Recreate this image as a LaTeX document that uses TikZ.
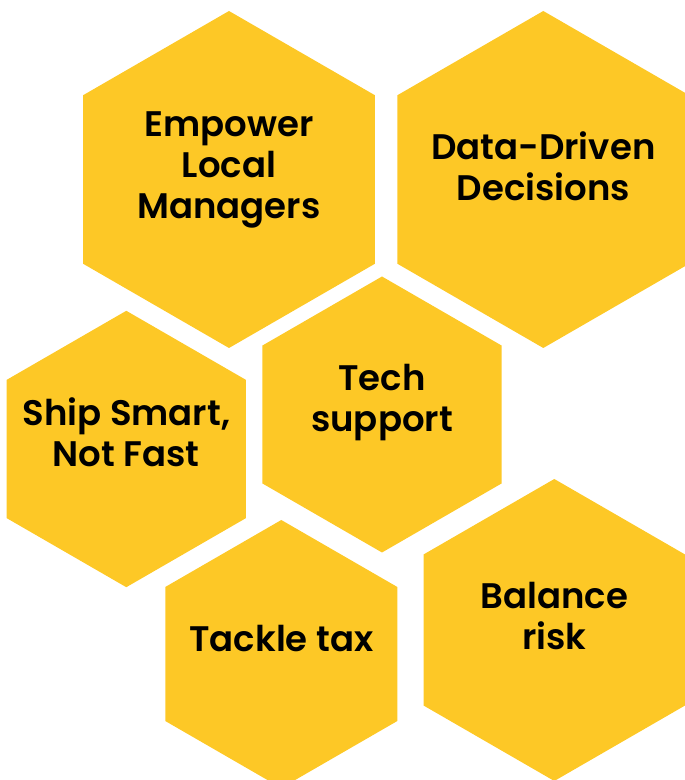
\documentclass[tikz,border=0pt]{standalone}
\usepackage{fontspec}
\setmainfont{Poppins}[UprightFont=* SemiBold]
\usepackage{tikz}
\usetikzlibrary{shapes.geometric,positioning}

\definecolor{hexyellow}{RGB}{253,200,38}

\tikzset{
    hexcell/.style={regular polygon, regular polygon sides=6, shape border rotate=30,
        fill=hexyellow, draw=none, inner sep=0pt, outer sep=0pt},
    hextext/.style={align=center, text=black, inner sep=0pt,
        font=\fontsize{35.5}{41}\selectfont}
}

\begin{document}
\begin{tikzpicture}[x=1pt, y=1pt]
    \useasboundingbox (0,0) rectangle (685,780);
    \clip (0,0) rectangle (685,780);

    % Hexagons
    \node[hexcell, minimum size=337pt] (empower) at (229,600.5) {};
    \node[hexcell, minimum size=337pt] (data) at (543.3,600.5) {};
    \node[hexcell, minimum size=276.4pt] (ship) at (126.3,331) {};
    \node[hexcell, minimum size=276pt] (tech) at (382,365.5) {};
    \node[hexcell, minimum size=268pt] (tackle) at (281.3,126) {};
    \node[hexcell, minimum size=302pt] (balance) at (554.3,150) {};

    % Labels
    \node[hextext] (empowerlbl) at ([yshift=10]empower.center) {Empower\\Local\\Managers};
    \node[hextext] (datalbl) at ([yshift=13.5]data.center) {Data-Driven\\Decisions};
    \node[hextext] (shiplbl) at ([yshift=16.5]ship.center) {Ship Smart,\\Not Fast};
    \node[hextext] (techlbl) at ([yshift=12]tech.center) {Tech\\support};
    \node[hextext] (tacklelbl) at ([yshift=15]tackle.center) {Tackle tax};
    \node[hextext] (balancelbl) at ([yshift=13.5]balance.center) {Balance\\risk};
\end{tikzpicture}
\end{document}
